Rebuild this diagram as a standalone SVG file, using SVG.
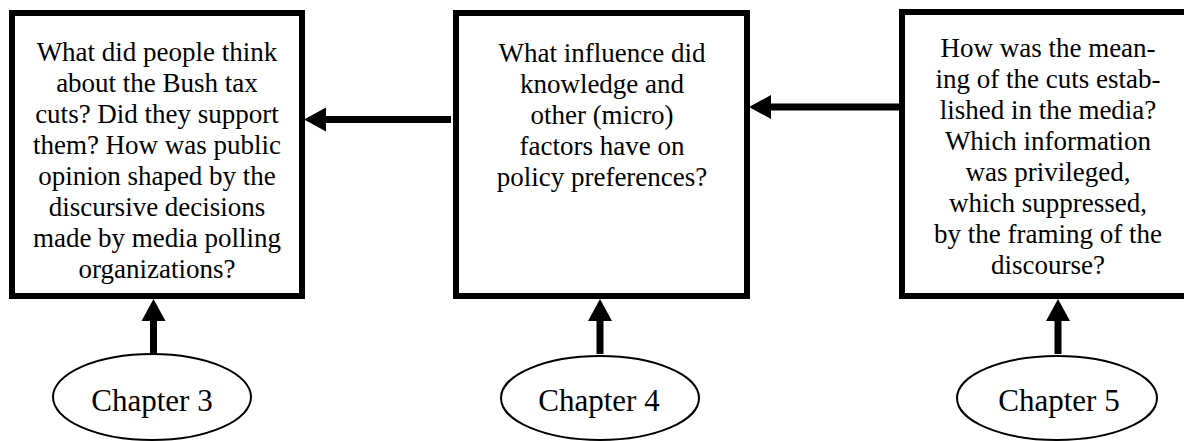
<svg xmlns="http://www.w3.org/2000/svg" width="1184" height="441" viewBox="0 0 1184 441">
<style>
.box{fill:#fff;stroke:#000;stroke-width:6}
.ell{fill:#fff;stroke:#000;stroke-width:2}
.t{font-size:27px;fill:#000;text-anchor:middle}
.c{font-size:31px;fill:#000;text-anchor:middle}
.arr{stroke:#000;stroke-width:7;fill:none;marker-end:url(#head)}
</style>
<defs>
<marker id="head" markerUnits="userSpaceOnUse" markerWidth="22" markerHeight="24" refX="1" refY="12" orient="auto" overflow="visible">
<path d="M0,0 L22,12 L0,24 z" fill="#000"/>
</marker>
</defs>
<rect width="1184" height="441" fill="#fff"/>
<g font-family="Liberation Serif, Times New Roman, DejaVu Serif, serif">
<g id="box1">
<rect class="box" x="12" y="13" width="290" height="283"/>
<text class="t"><tspan x="157" y="61">What did people think</tspan><tspan x="157" y="92">about the Bush tax</tspan><tspan x="157" y="123">cuts?  Did they support</tspan><tspan x="157" y="154">them? How was public</tspan><tspan x="157" y="185">opinion shaped by the</tspan><tspan x="157" y="216">discursive decisions</tspan><tspan x="157" y="247">made by media polling</tspan><tspan x="157" y="278">organizations?</tspan></text>
</g>
<g id="box2">
<rect class="box" x="456" y="13" width="291" height="283"/>
<text class="t"><tspan x="602" y="62">What influence did</tspan><tspan x="602" y="93">knowledge and</tspan><tspan x="602" y="124">other (micro)</tspan><tspan x="602" y="155">factors have on</tspan><tspan x="602" y="186">policy preferences?</tspan></text>
</g>
<g id="box3">
<rect class="box" x="902" y="12" width="300" height="284"/>
<text class="t"><tspan x="1048" y="57">How was the mean-</tspan><tspan x="1048" y="88">ing of the cuts estab-</tspan><tspan x="1048" y="119">lished in the media?</tspan><tspan x="1048" y="150">Which information</tspan><tspan x="1048" y="181">was privileged,</tspan><tspan x="1048" y="212">which suppressed,</tspan><tspan x="1048" y="243">by the framing of the</tspan><tspan x="1048" y="274">discourse?</tspan></text>
</g>
<g id="ch3">
<ellipse class="ell" cx="152" cy="397" rx="99" ry="43"/>
<text class="c" x="152" y="411">Chapter 3</text>
</g>
<g id="ch4">
<ellipse class="ell" cx="600" cy="398" rx="99" ry="42"/>
<text class="c" x="599" y="411">Chapter 4</text>
</g>
<g id="ch5">
<ellipse class="ell" cx="1057" cy="398" rx="100" ry="42"/>
<text class="c" x="1059" y="411">Chapter 5</text>
</g>
</g>
<g id="connectors">
<line class="arr" x1="451" y1="119.5" x2="325" y2="119.5"/>
<line class="arr" x1="899" y1="107" x2="770" y2="107"/>
<line class="arr" x1="153.5" y1="354" x2="153.5" y2="320"/>
<line class="arr" x1="600" y1="354" x2="600" y2="320"/>
<line class="arr" x1="1058" y1="354" x2="1058" y2="320"/>
</g>
</svg>
